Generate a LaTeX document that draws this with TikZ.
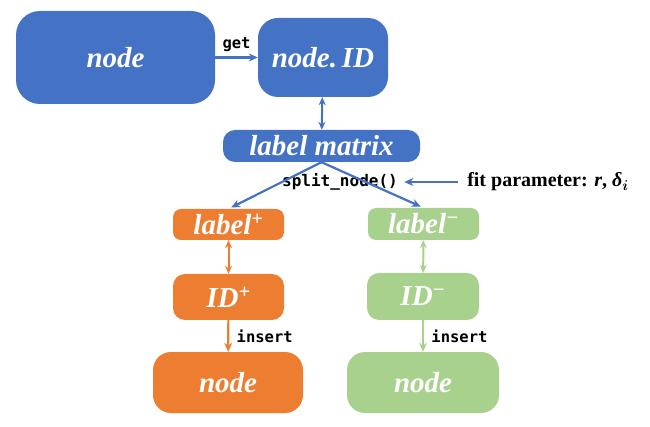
\documentclass[tikz,border=0pt]{standalone}
\usepackage{amsmath,amssymb}
\usepackage{bm}
\usepackage{xcolor}
\usepackage{fontspec}
\setmainfont{Liberation Serif}
\setmonofont{DejaVu Sans Mono}
\usetikzlibrary{arrows.meta}

\definecolor{boxblue}{HTML}{4472C4}
\definecolor{boxorange}{HTML}{ED7D31}
\definecolor{boxgreen}{HTML}{A9D18E}

\begin{document}
\begin{tikzpicture}[x=1pt,y=-1pt,
		box/.style = {rounded corners=#1, inner sep=0pt, text=white, font=\fontsize{29}{32}\selectfont\bfseries\itshape},
		box/.default = 10pt,
		code/.style = {font=\fontsize{15.5}{18}\selectfont\ttfamily\bfseries, text=black},
		link/.style = {draw=#1, line width=2.2pt, -{Stealth[length=9pt,width=8pt]}},
		twolink/.style = {draw=#1, line width=2pt, {Stealth[length=8pt,width=7pt]}-{Stealth[length=8pt,width=7pt]}}
	]
		\useasboundingbox (0,0) rectangle (650,427);

		% top row
		\node[box=24pt, fill=boxblue, minimum width=199pt, minimum height=93pt] (node) at (115.5,57.5) {node};
		\node[box=20pt, fill=boxblue, minimum width=130pt, minimum height=79pt] (nodeid) at (323,57.5) {node.\,ID};
		\node[box=12pt, fill=boxblue, minimum width=197pt, minimum height=32pt] (lm) at (321.5,146) {label matrix};

		% split
		\node[code, font=\fontsize{16}{18}\selectfont\ttfamily\bfseries] (split) at (340,182) {split\_node()};
		\node[font=\fontsize{20}{24}\selectfont\bfseries] (fit) at (548,182) {fit parameter: \textit{r}, \textit{δ}$_{\bm{i}}$};

		% two branches
		\node[box=8pt, fill=boxorange, minimum width=111pt, minimum height=31pt] (lp) at (228.5,224.5) {label\textsuperscript{+}};
		\node[box=8pt, fill=boxgreen, minimum width=111pt, minimum height=32pt] (lmin) at (423.5,224) {label\textsuperscript{−}};
		\node[box=12pt, fill=boxorange, minimum width=111pt, minimum height=46pt] (idp) at (228.5,297) {ID\textsuperscript{+}};
		\node[box=12pt, fill=boxgreen, minimum width=112pt, minimum height=47pt] (idm) at (423,296.5) {ID\textsuperscript{−}};
		\node[box=18pt, fill=boxorange, minimum width=150pt, minimum height=61pt] (np) at (228,382.5) {node};
		\node[box=18pt, fill=boxgreen, minimum width=152pt, minimum height=61pt] (nm) at (423,382.5) {node};

		% connectors
		\draw[link=boxblue] (node) -- node[code, above=1pt] {get} (nodeid);
		\draw[twolink=boxblue] (nodeid) -- (lm);
		\draw[link=boxblue, shorten >=3pt] (lm.south) -- (lp.north);
		\draw[link=boxblue, shorten >=3pt] (lm.south) -- (lmin.north);
		\draw[link=boxblue, shorten <=6pt, shorten >=3pt] (fit) -- (split);
		\draw[twolink=boxorange] (lp) -- (idp);
		\draw[twolink=boxgreen] (lmin) -- (idm);
		\draw[link=boxorange] (idp) -- node[code, right=4pt] {insert} (np);
		\draw[link=boxgreen] (idm) -- node[code, right=4pt] {insert} (nm);
	\end{tikzpicture}
\end{document}
